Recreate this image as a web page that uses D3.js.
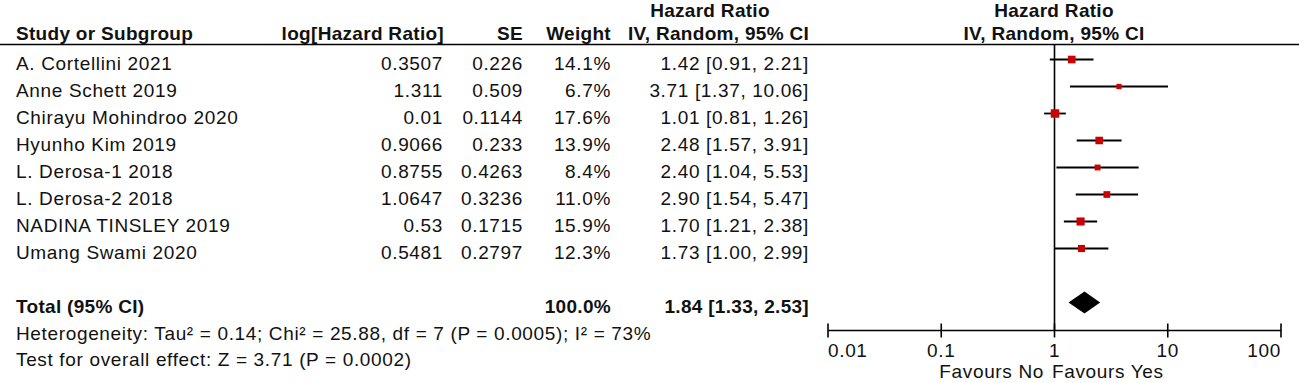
<!DOCTYPE html>
<html>
<head>
<meta charset="utf-8">
<script src="https://cdn.jsdelivr.net/npm/d3@7"></script>
<style>
  body { margin: 0; background: #fff; }
  svg { display: block; font-family: "Liberation Sans", Arial, sans-serif; }
  .hdr { font-weight: bold; font-size: 19px; fill: #111; letter-spacing: 0.3px; }
  .cell { font-size: 19px; fill: #111; letter-spacing: 0.65px; }
  .bold { font-weight: bold; letter-spacing: 0.3px; }
</style>
</head>
<body>
<svg id="forest"></svg>
<script>
/* Study data */
const studies = ["A. Cortellini 2021", "Anne Schett 2019", "Chirayu Mohindroo 2020", "Hyunho Kim 2019",
                 "L. Derosa-1 2018", "L. Derosa-2 2018", "NADINA TINSLEY 2019", "Umang Swami 2020"];
const logHR   = ["0.3507", "1.311", "0.01", "0.9066", "0.8755", "1.0647", "0.53", "0.5481"];
const seVals  = ["0.226", "0.509", "0.1144", "0.233", "0.4263", "0.3236", "0.1715", "0.2797"];
const weights = [14.1, 6.7, 17.6, 13.9, 8.4, 11.0, 15.9, 12.3];
const hr      = [1.42, 3.71, 1.01, 2.48, 2.40, 2.90, 1.70, 1.73];
const lower   = [0.91, 1.37, 0.81, 1.57, 1.04, 1.54, 1.21, 1.00];
const upper   = [2.21, 10.06, 1.26, 3.91, 5.53, 5.47, 2.38, 2.99];

/* Pooled estimate */
const total = { label: "Total (95% CI)", weight: 100.0, hr: 1.84, lower: 1.33, upper: 2.53 };

/* Axis ticks and labels */
const tickValues = [0.01, 0.1, 1, 10, 100];
const tickLabels = ["0.01", "0.1", "1", "10", "100"];

const width = 1299, height = 383;

const svg = d3.select("#forest")
    .attr("width", width)
    .attr("height", height);

/* Row positions: studies, a blank row, then the total */
const rowKeys = studies.concat(["", total.label]);
const yRow = d3.scalePoint()
    .domain(rowKeys)
    .range([59.5, 302.5]);
const baseOff = 10.5;

/* Log scale for the plot */
const x = d3.scaleLog()
    .domain([0.01, 100])
    .range([828, 1281]);

/* Column right edges */
const col = { study: 16, log: 443, se: 523, weight: 611, ci: 809 };

/* Headers */
svg.append("text").attr("class", "hdr").attr("x", 710).attr("y", 17)
    .attr("text-anchor", "middle").text("Hazard Ratio");
svg.append("text").attr("class", "hdr").attr("x", 1054).attr("y", 17)
    .attr("text-anchor", "middle").text("Hazard Ratio");

const hdr2 = [
  { t: "Study or Subgroup", x: col.study, a: "start" },
  { t: "log[Hazard Ratio]", x: col.log + 1, a: "end" },
  { t: "SE", x: col.se, a: "end" },
  { t: "Weight", x: col.weight, a: "end" },
  { t: "IV, Random, 95% CI", x: col.ci, a: "end" },
  { t: "IV, Random, 95% CI", x: 1054, a: "middle" }
];
svg.selectAll(".hdr2").data(hdr2).join("text")
    .attr("class", "hdr")
    .attr("x", d => d.x).attr("y", 40)
    .attr("text-anchor", d => d.a)
    .text(d => d.t);

svg.append("line")
    .attr("x1", 0).attr("x2", width)
    .attr("y1", 44.5).attr("y2", 44.5)
    .attr("stroke", "#000").attr("stroke-width", 1.6);

/* Table rows */
const rows = studies.map((s, i) => ({
  s, log: logHR[i], se: seVals[i], w: weights[i], hr: hr[i], lo: lower[i], hi: upper[i]
}));

const rowG = svg.selectAll(".row").data(rows).join("g")
    .attr("transform", d => `translate(0, ${yRow(d.s) + baseOff})`);

rowG.append("text").attr("class", "cell").attr("x", col.study).text(d => d.s);
rowG.append("text").attr("class", "cell").attr("x", col.log).attr("text-anchor", "end").text(d => d.log);
rowG.append("text").attr("class", "cell").attr("x", col.se).attr("text-anchor", "end").text(d => d.se);
rowG.append("text").attr("class", "cell").attr("x", col.weight).attr("text-anchor", "end").text(d => d.w.toFixed(1) + "%");
rowG.append("text").attr("class", "cell").attr("x", col.ci).attr("text-anchor", "end")
    .text(d => `${d.hr.toFixed(2)} [${d.lo.toFixed(2)}, ${d.hi.toFixed(2)}]`);

/* Total row */
const ty = yRow(total.label) + baseOff;
svg.append("text").attr("class", "cell bold").attr("x", col.study).attr("y", ty).text(total.label);
svg.append("text").attr("class", "cell bold").attr("x", col.weight).attr("y", ty)
    .attr("text-anchor", "end").text(total.weight.toFixed(1) + "%");
svg.append("text").attr("class", "cell bold").attr("x", col.ci).attr("y", ty)
    .attr("text-anchor", "end")
    .text(`${total.hr.toFixed(2)} [${total.lower.toFixed(2)}, ${total.upper.toFixed(2)}]`);

/* Footer statistics */
svg.append("text").attr("class", "cell").attr("x", col.study).attr("y", 340)
    .text("Heterogeneity: Tau\u00b2 = 0.14; Chi\u00b2 = 25.88, df = 7 (P = 0.0005); I\u00b2 = 73%");
svg.append("text").attr("class", "cell").attr("x", col.study).attr("y", 366)
    .text("Test for overall effect: Z = 3.71 (P = 0.0002)");

/* Plot: line of no effect */
const axisY = 330.5;
svg.append("line")
    .attr("x1", x(1)).attr("x2", x(1))
    .attr("y1", 44.5).attr("y2", axisY)
    .attr("stroke", "#000").attr("stroke-width", 1.6);

/* Confidence intervals */
svg.selectAll(".ci").data(rows).join("line")
    .attr("x1", d => x(d.lo)).attr("x2", d => x(d.hi))
    .attr("y1", d => yRow(d.s)).attr("y2", d => yRow(d.s))
    .attr("stroke", "#000").attr("stroke-width", 1.8);

/* Point estimates, sized by weight */
const size = d3.scaleSqrt().domain([0, 17.6]).range([0, 8.5]);
svg.selectAll(".pt").data(rows).join("rect")
    .attr("x", d => x(d.hr) - size(d.w) / 2)
    .attr("y", d => yRow(d.s) - size(d.w) / 2)
    .attr("width", d => size(d.w))
    .attr("height", d => size(d.w))
    .attr("fill", "#cc0000");

/* Pooled diamond */
const dy = yRow(total.label), dh = 11;
svg.append("path")
    .attr("d", `M${x(total.lower)},${dy} L${x(total.hr)},${dy - dh} L${x(total.upper)},${dy} L${x(total.hr)},${dy + dh} Z`)
    .attr("fill", "#000");

/* Axis */
const axisG = svg.append("g").attr("transform", `translate(0, ${axisY})`);
axisG.append("line")
    .attr("x1", x(0.01)).attr("x2", x(100))
    .attr("stroke", "#000").attr("stroke-width", 1.6);
axisG.selectAll(".tk").data(tickValues).join("line")
    .attr("x1", d => x(d)).attr("x2", d => x(d))
    .attr("y1", -7).attr("y2", 7)
    .attr("stroke", "#000").attr("stroke-width", 1.6);
axisG.selectAll(".tl").data(tickValues).join("text")
    .attr("class", "cell")
    .attr("x", d => x(d)).attr("y", 26)
    .attr("text-anchor", (d, i) => i === 0 ? "start" : (i === tickValues.length - 1 ? "end" : "middle"))
    .text((d, i) => tickLabels[i]);

svg.append("text").attr("class", "cell").attr("x", 1044).attr("y", 378)
    .attr("text-anchor", "end").text("Favours No");
svg.append("text").attr("class", "cell").attr("x", 1052).attr("y", 378)
    .text("Favours Yes");
</script>
</body>
</html>
